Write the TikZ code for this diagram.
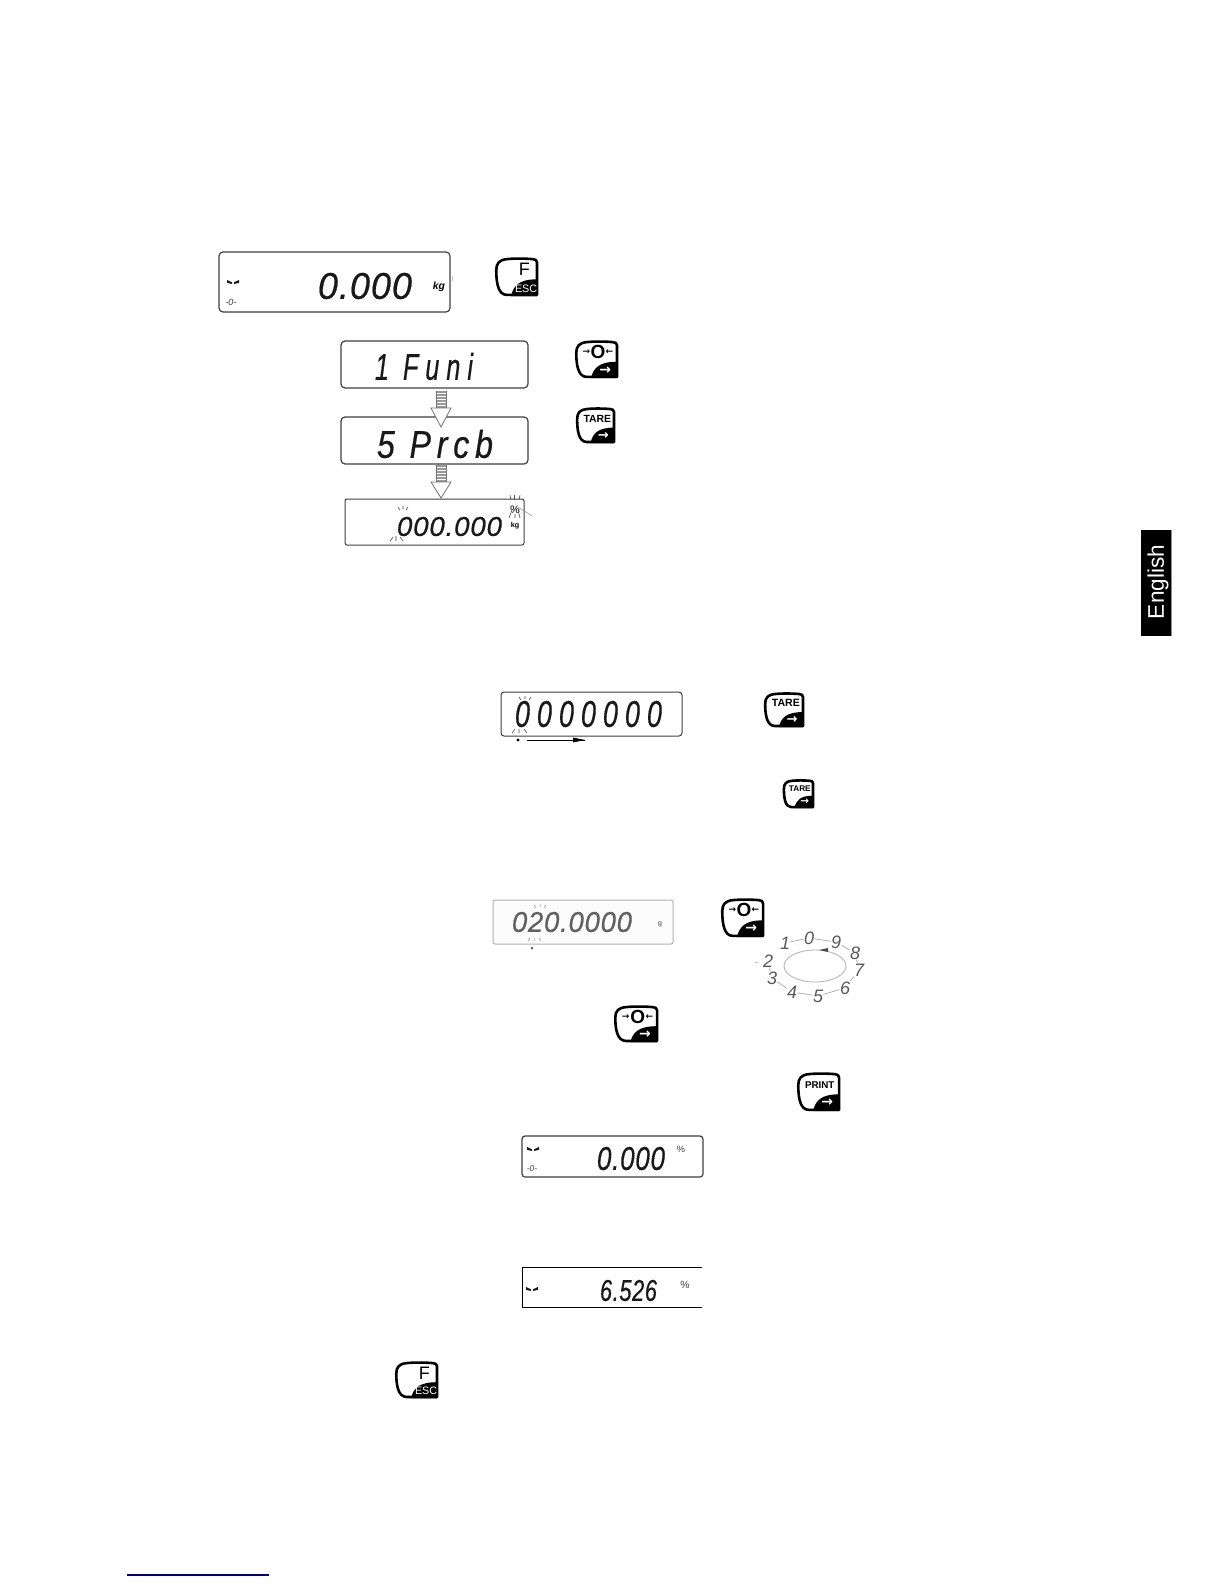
\documentclass[tikz,border=0pt]{standalone}
\usepackage{fontspec}
\setmainfont{Liberation Sans}
\newfontfamily\lcdfont[LetterSpace=3,FakeBold=0.6]{Liberation Sans}
\newfontfamily\arrowfont{DejaVu Sans}
\usetikzlibrary{calc}
\definecolor{lcdink}{gray}{0.1}
\definecolor{fadeink}{gray}{0.38}
\definecolor{dialink}{gray}{0.35}
\tikzset{
  disp/.style={draw=black!75,line width=0.6pt,rounded corners=2pt,inner sep=0pt,fill=white},
  dispfade/.style={draw=black!30,line width=0.5pt,rounded corners=1pt,inner sep=0pt,fill=black!1},
  lcdtext/.style={inner sep=0pt,outer sep=0pt,text=lcdink},
  ray/.style={line width=0.3pt,draw=black!70},
  raylight/.style={line width=0.25pt,draw=black!45},
  keyline/.style={draw=black,line width=1.3pt,fill=white,line join=round},
  keyblack/.style={fill=black,draw=none},
  dialdigit/.style={inner sep=0pt,text=dialink,font=\itshape\fontsize{9}{9}\selectfont},
  dialline/.style={draw=black!30,line width=0.4pt},
  hollow/.style={draw=black!55,line width=0.4pt,fill=white},
  unitbold/.style={inner sep=0pt,font=\bfseries\itshape\fontsize{5.2}{5.2}\selectfont},
  unitsmall/.style={inner sep=0pt,font=\fontsize{4.6}{5}\selectfont,text=black!75},
  sign/.style={inner sep=0pt,font=\itshape\fontsize{4.5}{5}\selectfont,text=black!75}
}
\newcommand{\dispbox}[6][disp]{%
  \pgfmathsetlengthmacro\dw{(#4-#2)*0.5}%
  \pgfmathsetlengthmacro\dh{(#5-#3)*0.5}%
  \node[#1,minimum width=\dw,minimum height=\dh] (#6) at ({(#2+#4)/2},{(#3+#5)/2}) {};}
\newcommand{\lcdread}[7][]{%
  \pgfmathsetlengthmacro\tw{(#5-#3)*0.5}%
  \pgfmathsetlengthmacro\th{(#6-#4)*0.5}%
  \node[lcdtext,#1] (#2) at ({(#3+#5)/2},{(#4+#6)/2}) {\resizebox{\tw}{\th}{\lcdfont\itshape #7}};}
\newcommand{\stab}[3]{\node[inner sep=0pt] (#1) at (#2,#3) {};
  \fill[black!90] (#2-6,#3-2) -- (#2-1,#3+0.3) -- (#2-1,#3+2) -- (#2-6,#3+0.8) -- cycle;
  \fill[black!90] (#2+6,#3-2) -- (#2+1,#3+0.3) -- (#2+1,#3+2) -- (#2+6,#3+0.8) -- cycle;}
\newcommand{\keycap}[7]{%
  \begin{scope}[shift={(#2,#3)},x={({(#4-#2)*0.005pt},0pt)},y={(0pt,{-(#5-#3)*0.005pt})}]
    \draw[keyline] (90,3) .. controls (70,1) and (45,1) .. (28,3) .. controls (10,5) and (3,14) .. (3,32)
       .. controls (3,60) and (6,97) .. (28,97) -- (100,97) -- (100,12) .. controls (100,6) and (96,3) .. (90,3) -- cycle;
    \path[keyblack,fill=black] (100,100) -- (#6,100) .. controls ({#6+6},72) and ({#6+20},56) .. (100,56) -- cycle;
    \coordinate (#1) at (50,50);
    #7
  \end{scope}}
\newcommand{\keyarrow}[1]{\node[inner sep=0pt,text=white,font=\arrowfont\bfseries\fontsize{#1}{#1}\selectfont] at (72,79) {→};}
\newcommand{\flowarrow}[6]{%
  \coordinate (#1) at (#3,#6);
  \foreach \yy in {0,1.5,...,16.5} {\draw[black!40,line width=0.4pt] (#3-5,#4+\yy) -- (#3+5,#4+\yy);}
  \draw[black!55,line width=0.35pt] (#3-5,#4) -- (#3-5,#5) (#3+5,#4) -- (#3+5,#5);
  \draw[hollow] (#3-10,#5) -- (#2) -- (#3+10,#5) -- cycle;}
\newcommand{\fkeytext}{%
  \node[inner sep=0pt,font=\fontsize{9}{9}\selectfont] at (70,30) {F};
  \path[keyblack] (100,100) -- (38,100) -- (58,66) -- (100,58) -- cycle;
  \node[inner sep=0pt,text=white,font=\fontsize{5.4}{5.4}\selectfont] at (74,81) {ESC};}
\newcommand{\zkeytext}{%
  \node[inner sep=0pt,font=\arrowfont\bfseries\fontsize{4.5}{5}\selectfont] at (27,30) {→};
  \node[inner sep=0pt,font=\bfseries\fontsize{9.5}{9.5}\selectfont] at (55,30) {O};
  \node[inner sep=0pt,font=\arrowfont\bfseries\fontsize{4.5}{5}\selectfont] at (82,30) {←};
  \keyarrow{7}}
\begin{document}
\begin{tikzpicture}[x=0.5pt,y=-0.5pt]
\useasboundingbox (0,0) rectangle (1224,1584);
\fill[white] (0,0) rectangle (1224,1584);

% ---- first group
\dispbox{219}{252}{450}{312}{d1}
\lcdread{r1}{318}{273}{412}{299}{0.000}
\node[unitbold] (u1) at (439,287) {kg};
\stab{m1}{233}{282}
\node[sign] (z1) at (231,302) {-0-};
\draw[black!25,line width=0.5pt] (452,276) -- (452,281);

\keycap{kf1}{495}{258}{537}{296}{38}{\fkeytext}

\dispbox{341}{341}{528}{388}{d2}
\lcdread{r2}{375}{353}{473}{380}{\addfontfeature{LetterSpace=28}1 Funi}

\keycap{kz1}{575}{341}{617}{378}{38}{\zkeytext}

\dispbox{341}{417}{528}{464}{d3}
\lcdread{r3}{377}{430}{493}{458}{\addfontfeature{LetterSpace=18}5 Prcb}

\keycap{kt1}{576}{408}{614}{443}{38}{
  \node[inner sep=0pt,font=\bfseries\fontsize{5.2}{5.2}\selectfont] at (56,30) {TARE};
  \keyarrow{6.5}}

\dispbox[disp,rounded corners=1pt,line width=0.5pt]{345}{499}{524}{545}{d4}
\lcdread{r4}{397}{517}{502}{536}{000.000}
\node[unitsmall,font=\bfseries\fontsize{5.5}{5.5}\selectfont] (u4a) at (515,510) {\%};
\node[unitbold,font=\bfseries\fontsize{3.6}{4}\selectfont] (u4b) at (515,526) {kg};
\draw[ray] (510,495) -- (511,500) (514.5,495) -- (514.5,500) (520,495) -- (519,500)
           (512,510) -- (509,518) (515,514) -- (515,518) (518,510) -- (520,518);
\draw[raylight] (518,507) -- (532,516);
\draw[ray] (398,507) -- (400,510) (403,506) -- (403,509) (408,507) -- (406,510)
           (390,541) -- (393,537) (396,536) -- (396,541) (400,537) -- (403,541);

\flowarrow{fa1}{441,427}{441}{391}{408}{427}
\flowarrow{fa2}{441,498}{441}{465}{482}{498}

% ---- second group
\dispbox[disp,rounded corners=1.5pt,line width=0.5pt]{501}{692}{682}{736}{d5}
\lcdread{r5}{515}{701}{662}{727}{\addfontfeature{LetterSpace=26}0000000}
\draw[ray] (519,697) -- (521,700) (525,696) -- (525,699) (531,697) -- (529,700)
           (512,733) -- (515,729) (519,729) -- (519,733) (524,729) -- (527,733);
\fill (518,740) circle (1.6);
\coordinate (a5s) at (527,740);
\coordinate (a5e) at (585,740);
\draw[black,line width=0.4pt] (a5s) -- (a5e);
\fill (a5e) -- (573,737.5) -- (573,742.5) -- cycle;

\keycap{kt2}{764}{693}{803}{727}{38}{
  \node[inner sep=0pt,font=\bfseries\fontsize{5.3}{5.3}\selectfont] at (56,30) {TARE};
  \keyarrow{6.5}}
\keycap{kt3}{783}{780}{813}{808}{38}{
  \node[inner sep=0pt,font=\bfseries\fontsize{4.1}{5}\selectfont] at (56,30) {TARE};
  \keyarrow{5.2}}

\dispbox[dispfade]{493}{900}{673}{944}{d6}
\lcdread[text=fadeink]{r6}{512}{912}{632}{932}{020.0000}
\node[unitsmall,text=black!55,font=\bfseries\fontsize{3.5}{4}\selectfont] (u6) at (660,924) {g};
\draw[raylight] (534,905) -- (536,908) (540,904) -- (540,907) (546,905) -- (544,908)
                (528,941) -- (530,938) (534,938) -- (534,941) (539,938) -- (541,941);
\fill[black!60] (532,948) circle (1.5);

\keycap{kz2}{721}{899}{763}{937}{38}{\zkeytext}

% digit wheel
\node[dialdigit] (w0) at (809,938) {0};
\node[dialdigit] (w9) at (836,942) {9};
\node[dialdigit] (w8) at (855,953) {8};
\node[dialdigit] (w7) at (859,970) {7};
\node[dialdigit] (w6) at (845,988) {6};
\node[dialdigit] (w5) at (818,996) {5};
\node[dialdigit] (w4) at (792,992) {4};
\node[dialdigit] (w3) at (772,978) {3};
\node[dialdigit] (w2) at (768,961) {2};
\node[dialdigit] (w1) at (785,943) {1};
\draw[dialline] (w1) -- (w0);
\draw[dialline] (w0) -- (w9);
\draw[dialline] (w9) -- (w8);
\draw[dialline] (w8) -- (w7);
\draw[dialline] (w7) -- (w6);
\draw[dialline] (w6) -- (w5);
\draw[dialline] (w5) -- (w4);
\draw[dialline] (w4) -- (w3);
\draw[dialline] (w3) -- (w2);
\draw[black!28,line width=0.45pt] (815,966) ellipse (31 and 16);
\fill[black!70] (819,950) -- (828,948) -- (828,952) -- cycle;
\draw[black!25,line width=0.3pt] (755,962) -- (758,962);

\keycap{kz3}{614}{1006}{657}{1042}{38}{\zkeytext}

\keycap{kp1}{797}{1073}{839}{1111}{38}{
  \node[inner sep=0pt,font=\bfseries\fontsize{4.9}{5}\selectfont] at (54,32) {PRINT};
  \keyarrow{7}}

% ---- result displays
\dispbox[disp,rounded corners=1.5pt,line width=0.6pt]{522}{1136}{703}{1177}{d7}
\lcdread{r7}{597}{1147}{665}{1170}{0.000}
\node[unitsmall] (u7) at (681,1149) {\%};
\stab{m7}{533}{1149}
\node[sign,font=\itshape\fontsize{4.2}{5}\selectfont] (z7) at (532,1169) {-0-};

\coordinate (d8a) at (702,1267);
\coordinate (d8b) at (522,1267);
\coordinate (d8c) at (522,1307);
\coordinate (d8d) at (702,1307);
\draw[black,line width=0.5pt] (d8a) -- (d8b) -- (d8c) -- (d8d);
\lcdread{r8}{600}{1280}{657}{1301}{6.526}
\node[unitsmall,font=\fontsize{5.2}{5.5}\selectfont] (u8) at (685,1285) {\%};
\stab{m8}{532}{1289}

\keycap{kf2}{395}{1362}{437}{1398}{38}{\fkeytext}

% ---- tab and footer rule
\fill[black] (1141,530) rectangle (1171,636);
\draw[black!45,line width=0.5pt] (1171,530) -- (1171,636);
\node[inner sep=0pt,rotate=90,text=white,font=\fontsize{11.3}{11.3}\selectfont] (tab) at (1158,582) {English};

\coordinate (fa) at (127,1575);
\coordinate (fb) at (269,1575);
\draw[blue!50!black,line width=0.6pt] (fa) -- (fb);
\end{tikzpicture}
\end{document}
